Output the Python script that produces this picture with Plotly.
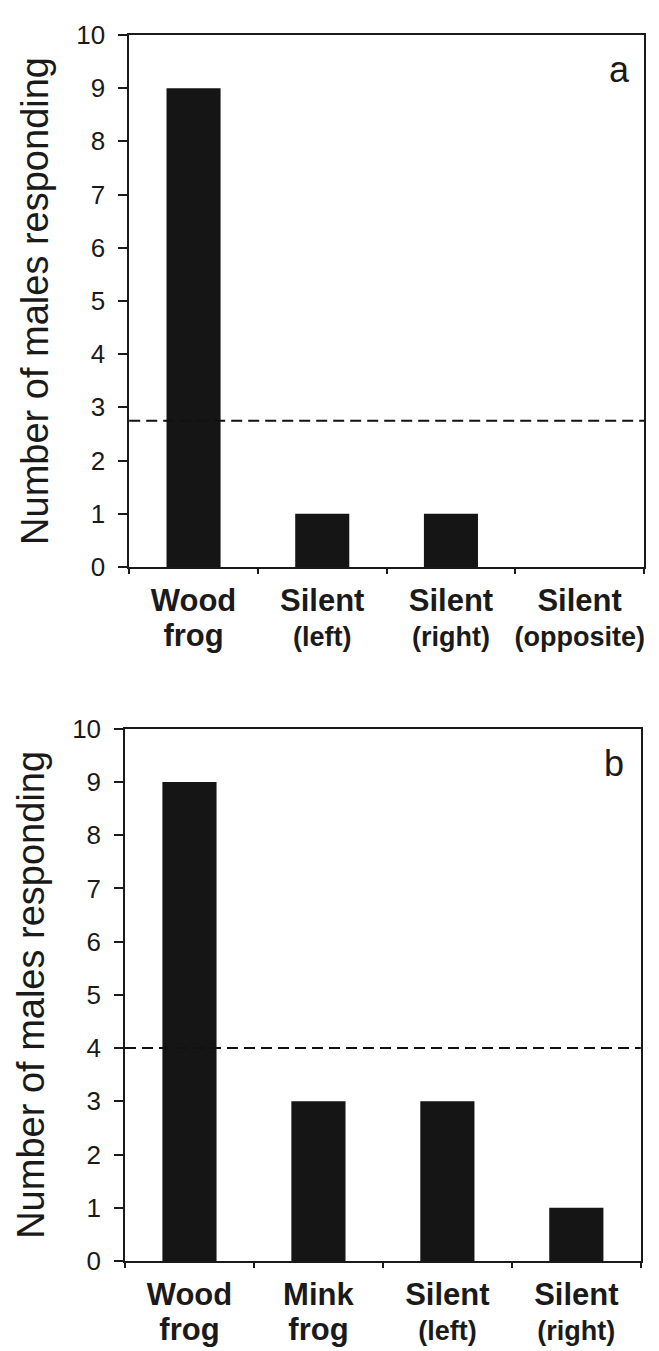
import plotly.graph_objects as go

# ---- data ----
cats_a_line1 = ["Wood", "Silent", "Silent", "Silent"]
cats_a_line2 = ["frog", "(left)", "(right)", "(opposite)"]
vals_a = [9, 1, 1, 0]
chance_a = 2.75

cats_b_line1 = ["Wood", "Mink", "Silent", "Silent"]
cats_b_line2 = ["frog", "frog", "(left)", "(right)"]
vals_b = [9, 3, 3, 1]
chance_b = 4

y_ticks = list(range(0, 11))
y_title = "Number of males responding"
panel_letters = ["a", "b"]

FONT = "Liberation Sans"
INK = "#1a1a1a"
BAR = "#151515"


def make_labels(l1, l2):
    out = []
    for a, b in zip(l1, l2):
        if b.startswith("("):
            out.append(f"<span style='font-size:31px'><b>{a}</b></span><br>"
                       f"<span style='font-size:27px'><b>{b}</b></span>")
        else:
            out.append(f"<span style='font-size:31px'><b>{a}</b></span><br>"
                       f"<span style='font-size:31px'><b>{b}</b></span>")
    return out


labels_a = make_labels(cats_a_line1, cats_a_line2)
labels_b = make_labels(cats_b_line1, cats_b_line2)

fig = go.Figure()
fig.add_trace(go.Bar(x=labels_a, y=vals_a, xaxis="x", yaxis="y",
                     marker=dict(color=BAR, line=dict(width=0)), width=0.42,
                     showlegend=False, hoverinfo="skip"))
fig.add_trace(go.Bar(x=labels_b, y=vals_b, xaxis="x2", yaxis="y2",
                     marker=dict(color=BAR, line=dict(width=0)), width=0.42,
                     showlegend=False, hoverinfo="skip"))

W, H = 659, 1351
ml, mr, mt, mb = 116.5, 23.3, 20, 98
pw = W - ml - mr
ph = H - mt - mb

xa_dom = [(120.7 - ml) / pw, 1.0]
xb_dom = [0.0, (632.5 - ml) / pw]
ya_dom = [(1253 - 555) / ph, 1.0]
yb_dom = [0.0, (1253 - 717.7) / ph]

common_x = dict(type="category", showline=True, linecolor=INK, linewidth=1.5,
                mirror=True, ticks="outside", ticklen=5, tickwidth=1.5,
                tickcolor=INK, tickson="boundaries", showgrid=False,
                zeroline=False, tickfont=dict(family=FONT, size=27, color=INK),
                tickangle=0, ticklabelstandoff=10,
                fixedrange=True)
common_y = dict(range=[0, 10], tickvals=y_ticks, showline=True, linecolor=INK,
                linewidth=1.5, mirror=True, ticks="outside", ticklen=9,
                tickwidth=1.5, tickcolor=INK, showgrid=False, zeroline=False,
                tickfont=dict(family=FONT, size=26, color=INK),
                ticklabelstandoff=8,
                title=dict(text=y_title, font=dict(family=FONT, size=38, color=INK),
                           standoff=16),
                fixedrange=True)

fig.update_layout(
    width=W, height=H,
    margin=dict(l=ml, r=mr, t=mt, b=mb),
    paper_bgcolor="white", plot_bgcolor="white",
    xaxis=dict(domain=xa_dom, anchor="y", **common_x),
    yaxis=dict(domain=ya_dom, anchor="x", **common_y),
    xaxis2=dict(domain=xb_dom, anchor="y2", **common_x),
    yaxis2=dict(domain=yb_dom, anchor="x2", **common_y),
    bargap=0.58,
)

# chance-level dashed lines
for yref, xref, val in [("y", "x domain", chance_a), ("y2", "x2 domain", chance_b)]:
    fig.add_shape(type="line", xref=xref, yref=yref, x0=0, x1=1, y0=val, y1=val,
                  line=dict(color="#111111", width=2, dash="11px,6px"), layer="above")

# panel letters
for xref, yref, letter, xx, yy in [("x domain", "y domain", panel_letters[0], 0.952, 0.935),
                                   ("x2 domain", "y2 domain", panel_letters[1], 0.949, 0.935)]:
    fig.add_annotation(xref=xref, yref=yref, x=xx, y=yy, text=letter,
                       showarrow=False, xanchor="center", yanchor="middle",
                       font=dict(family=FONT, size=36, color=INK))

fig.write_html("out.html")
